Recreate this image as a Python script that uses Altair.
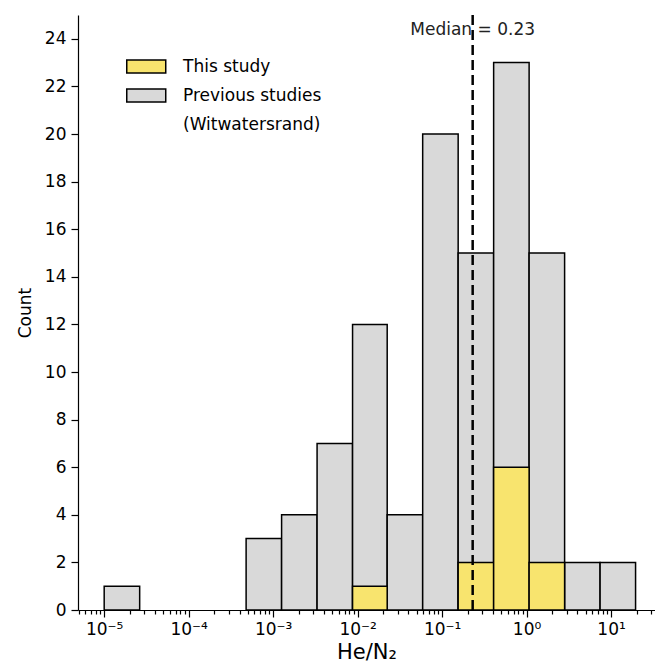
import altair as alt
import pandas as pd

# ---- data ----
bin_edges_log10 = [-5.0, -4.58, -4.16, -3.74, -3.32, -2.90, -2.48, -2.06,
                   -1.65, -1.23, -0.81, -0.39, 0.03, 0.45, 0.87, 1.29]
previous_counts = [1, 0, 0, 0, 3, 4, 7, 12, 4, 20, 15, 23, 15, 2, 2]
this_study_counts = [0, 0, 0, 0, 0, 0, 0, 1, 0, 0, 2, 6, 2, 0, 0]
series_names = ["This study", "Previous studies", "(Witwatersrand)"]
median_value = 0.23
median_label = "Median = 0.23"
major_exponents = [-5, -4, -3, -2, -1, 0, 1]
major_labels = ["10⁻⁵", "10⁻⁴", "10⁻³", "10⁻²", "10⁻¹", "10⁰", "10¹"]
y_ticks = [0, 2, 4, 6, 8, 10, 12, 14, 16, 18, 20, 22, 24]
x_title = "He/N₂"
y_title = "Count"

YELLOW = "#F8E46E"
GRAY = "#D9D9D9"
FONT = "DejaVu Sans"
X_MIN_LOG, X_MAX_LOG = -5.31, 1.52

rows = []
for i, c in enumerate(previous_counts):
    if c > 0:
        rows.append({"x0": 10 ** bin_edges_log10[i], "x1": 10 ** bin_edges_log10[i + 1],
                     "count": c, "series": "Previous studies"})
for i, c in enumerate(this_study_counts):
    if c > 0:
        rows.append({"x0": 10 ** bin_edges_log10[i], "x1": 10 ** bin_edges_log10[i + 1],
                     "count": c, "series": "This study"})
df = pd.DataFrame(rows)

# axis ticks (major + minor)
minor_ticks = []
for e in range(-6, 2):
    for m in range(2, 10):
        v = m * 10 ** e
        if 10 ** X_MIN_LOG <= v <= 10 ** X_MAX_LOG:
            minor_ticks.append(v)
tick_values = [10.0 ** e for e in major_exponents] + minor_ticks

is_major = "abs(log(datum.value)/LN10 - round(log(datum.value)/LN10)) < 0.01"
expo = "round(log(datum.value)/LN10)"
chain = "''"
for e, lab in reversed(list(zip(major_exponents, major_labels))):
    chain = f"({expo} == {e} ? '{lab}' : {chain})"
label_expr = f"({is_major}) ? {chain} : ''"

x_scale = alt.Scale(type="log", domain=[10 ** X_MIN_LOG, 10 ** X_MAX_LOG], nice=False)
y_scale = alt.Scale(domain=[0, 25], nice=False)

legend = alt.Legend(
    title=None, orient="none", legendX=48, legendY=41,
    symbolType="M-1,-0.667L3,-0.667L3,0.667L-1,0.667Z",
    symbolSize=380, symbolStrokeWidth=1.5,
    labelFont=FONT, labelFontSize=17, labelColor="black",
    labelOffset=36, rowPadding=8, padding=0,
)

bars = alt.Chart(df).mark_rect(strokeWidth=1.5).encode(
    x=alt.X("x0:Q", scale=x_scale, title=x_title,
            axis=alt.Axis(values=tick_values, labelExpr=label_expr,
                          tickSize={"condition": {"test": is_major, "value": 7}, "value": 4},
                          labelOverlap=False, labelFlush=False, labelPadding=4,
                          titlePadding=4, titleFontSize=21)),
    x2="x1:Q",
    y=alt.Y("count:Q", scale=y_scale, title=y_title,
            axis=alt.Axis(values=y_ticks, tickSize=7, labelPadding=5, titlePadding=10)),
    y2=alt.datum(0),
    fill=alt.Fill("series:N", scale=alt.Scale(domain=series_names, range=[YELLOW, GRAY, "white"]),
                  legend=legend),
    stroke=alt.Stroke("series:N", scale=alt.Scale(domain=series_names, range=["black", "black", "white"]),
                      legend=legend),
)

med = pd.DataFrame({"x": [median_value], "top": [25], "bottom": [0], "label": [median_label]})
rule = alt.Chart(med).mark_rule(color="black", strokeWidth=2.5, strokeDash=[10, 5]).encode(
    x="x:Q", y="top:Q", y2="bottom:Q"
)
text = alt.Chart(med).mark_text(font=FONT, fontSize=17, color="#222222", baseline="middle",
                                align="center").encode(
    x="x:Q", y=alt.value(15), text="label:N"
)

chart = alt.layer(bars, rule, text).properties(
    width=577, height=595,
    autosize=alt.AutoSizeParams(type="none"),
    padding={"left": 70, "top": 7, "right": 0, "bottom": 52},
).configure_view(stroke=None).configure_axis(
    grid=False, domainColor="black", domainWidth=1.2, tickColor="black", tickWidth=1.2,
    labelFont=FONT, labelFontSize=17, labelColor="black",
    titleFont=FONT, titleFontSize=17, titleFontWeight="normal", titleColor="black",
)

chart.save("out.html", embed_options={"renderer": "svg", "actions": False})
